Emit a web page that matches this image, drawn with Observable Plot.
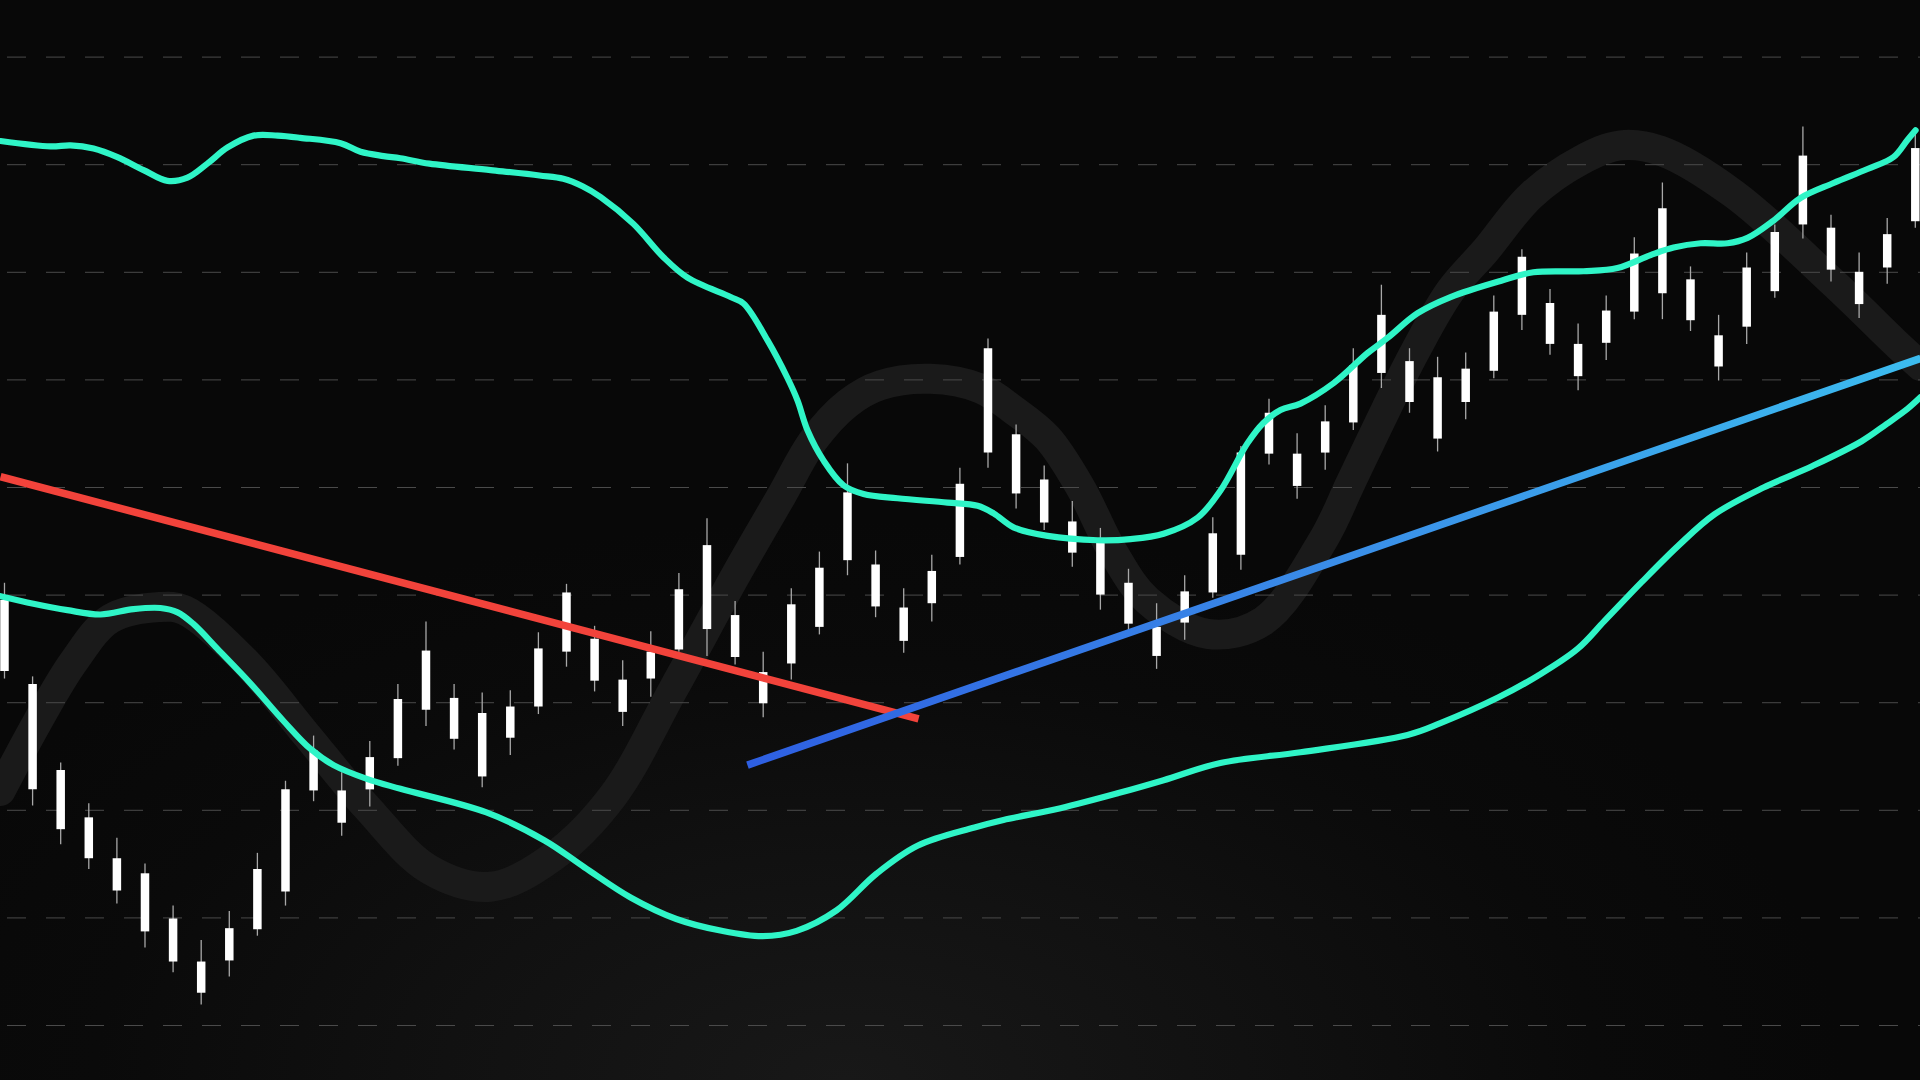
<!DOCTYPE html>
<html>
<head>
<meta charset="utf-8">
<script src="https://cdn.jsdelivr.net/npm/d3@7"></script>
<script src="https://cdn.jsdelivr.net/npm/@observablehq/plot@0.6"></script>
<style>
  html, body { margin: 0; padding: 0; width: 1920px; height: 1080px; overflow: hidden; }
  body {
    background: radial-gradient(ellipse 1000px 560px at 44% 100%, #181818 0%, #111111 40%, #0a0a0a 75%, #080808 100%);
    background-color: #080808;
  }
  #chart { position: absolute; left: 0; top: 0; }
</style>
</head>
<body>
<div id="chart"></div>
<script>
// ---- Candles (bar index 0..68), price units ----
const high  = [141.1,132.4,124.4,120.6,117.4,115.0,111.1,107.9,110.6,116.0,122.7,126.9,123.5,126.4,131.7,137.5,131.7,130.9,131.1,136.5,141.0,137.1,133.9,136.6,142.0,147.1,139.4,134.7,140.6,144.0,152.2,144.1,140.6,143.7,151.8,163.8,155.8,152.0,148.7,146.2,142.4,139.2,141.8,147.2,153.8,158.2,155.0,157.6,162.9,168.8,162.9,162.1,162.5,167.8,172.1,168.4,165.2,167.8,173.2,178.3,170.5,166.0,171.8,174.4,183.5,175.3,171.8,175.0,182.9];
const close = [139.5,131.7,123.7,119.3,115.5,114.1,109.9,105.9,109.0,114.5,121.9,125.5,121.8,124.9,130.3,134.8,130.4,129.0,129.6,135.0,140.2,135.9,132.1,134.7,140.5,144.6,138.1,132.8,139.1,142.5,149.5,142.8,138.8,142.2,150.3,162.9,154.9,150.7,146.8,144.8,141.1,137.0,140.3,145.7,153.2,156.9,153.1,156.1,161.3,166.0,161.7,160.2,161.0,166.3,171.4,167.1,163.3,166.4,171.7,175.9,169.3,164.1,170.4,173.7,180.8,174.1,170.0,173.5,181.5];
const open  = [132.9,121.9,118.2,115.5,112.5,108.7,105.9,103.0,106.0,108.9,112.4,121.8,118.8,121.9,124.8,129.3,126.6,123.1,126.7,129.6,134.7,132.0,129.1,132.2,134.9,136.8,134.2,129.9,133.6,137.0,143.2,138.9,135.7,139.2,143.5,153.2,149.4,146.7,143.9,140.0,137.3,134.3,137.4,140.2,143.7,153.1,150.1,153.2,156.0,160.6,157.9,154.5,157.9,160.8,166.0,163.3,160.3,163.4,166.3,168.0,165.5,161.2,164.9,168.2,174.4,170.2,167.0,170.4,174.7];
const low   = [132.2,120.4,116.8,114.5,111.3,107.2,104.9,101.9,104.5,108.3,111.1,120.8,117.6,120.3,124.1,127.8,125.6,122.1,125.1,128.9,133.3,131.0,127.8,130.5,134.7,134.3,133.5,128.6,132.1,136.3,141.8,137.9,134.6,137.5,142.8,151.8,148.0,146.0,142.6,138.6,136.7,133.1,135.8,139.7,142.3,152.1,148.9,151.6,155.3,159.2,156.9,153.3,156.3,160.1,164.6,162.3,159.0,161.8,165.6,165.6,164.5,159.9,163.3,167.6,173.1,169.1,165.7,168.9,174.1];

// ---- Upper band ----
const upperT = [-0.14,1.64,2.35,3.17,4.02,4.95,5.80,6.51,7.22,7.94,8.86,9.72,10.53,11.96,12.67,13.49,14.09,15.12,17.30,19.04,19.89,20.57,21.21,22.38,23.45,24.31,25.84,26.30,27.15,27.86,28.22,28.58,29.15,29.86,30.57,31.78,33.56,34.63,35.20,35.91,37.12,38.90,40.07,41.25,42.46,43.27,44.23,44.80,45.41,46.12,47.30,48.51,49.22,50.29,51.46,53.24,54.41,56.19,57.40,58.58,59.40,60.36,61.32,62.03,62.95,63.91,65.09,66.30,67.22,67.72,68.01];
const upperV = [182.2,181.7,181.8,181.5,180.7,179.5,178.5,178.8,180.1,181.6,182.7,182.7,182.5,182.0,181.2,180.8,180.6,180.1,179.5,179.0,178.7,178.0,177.0,174.5,171.4,169.5,167.7,167.1,163.7,160.2,158.1,155.3,152.5,150.2,149.4,149.0,148.6,148.3,147.6,146.3,145.5,145.1,145.2,145.7,147.2,149.7,154.1,156.0,157.2,157.8,159.7,162.5,163.9,166.2,167.7,169.2,170.0,170.1,170.4,171.6,172.3,172.7,172.7,173.2,174.8,176.9,178.3,179.6,180.7,182.3,183.2];

// ---- Lower band ----
const lowerT = [-0.14,1.03,2.24,3.42,4.59,5.55,6.16,6.73,7.58,8.75,9.93,10.89,11.71,12.92,14.09,17.15,19.22,20.64,22.28,23.91,25.52,26.98,28.19,29.61,31.03,32.49,34.52,35.55,37.58,39.64,41.25,43.27,46.12,49.93,51.10,53.17,54.56,55.98,56.94,58.26,59.57,60.85,62.60,64.34,66.09,66.98,67.72,68.19];
const lowerV = [139.9,139.2,138.6,138.2,138.7,138.8,138.4,137.3,135.0,131.8,128.3,125.7,124.2,122.9,122.0,119.8,117.2,114.7,111.9,109.9,108.8,108.3,108.8,110.7,114.1,116.7,118.4,119.1,120.2,121.6,122.8,124.4,125.4,127.0,128.1,130.5,132.5,135.0,137.6,141.2,144.6,147.5,150.0,152.0,154.3,155.9,157.3,158.4];

// ---- Faint wave ----
const waveT = [-0.14,1.17,2.46,3.77,5.52,6.41,8.58,10.75,12.92,15.12,17.30,19.47,21.64,23.81,26.01,27.62,28.79,30.00,31.17,32.95,34.73,35.91,37.12,38.29,39.47,40.68,42.81,44.80,46.94,47.90,49.15,50.21,51.46,52.70,54.31,56.09,57.51,58.93,61.53,65.09,67.47,68.19];
const waveV = [121.8,128.2,133.8,137.8,138.9,138.6,133.8,127.0,120.2,114.5,112.9,115.6,121.3,131.3,141.8,149.1,154.4,157.8,159.5,160.1,159.2,157.2,154.6,150.0,143.9,139.5,136.4,137.6,145.2,150.4,157.2,162.7,168.3,172.0,177.1,180.4,181.8,181.3,177.3,169.0,163.0,161.3];

// ---- Trend lines ----
const redT = [-0.14, 32.53];
const redV = [151.0, 128.5];
const blueT = [26.44, 68.19];
const blueV = [124.2, 162.0];

// ---- Grid levels ----
const gridLevels = [100,110,120,130,140,150,160,170,180,190];

const candles = high.map((h, i) => ({i, h, c: close[i], o: open[i], l: low[i]}));
const zip = (T, V) => T.map((t, k) => ({t, v: V[k]}));

const defs = () => {
  const d = d3.create("svg:defs");
  const g = d.append("linearGradient").attr("id", "blueGrad")
    .attr("x1", "0").attr("x2", "1").attr("y1", "0").attr("y2", "0");
  g.append("stop").attr("offset", "0%").attr("stop-color", "#2e5fe2");
  g.append("stop").attr("offset", "50%").attr("stop-color", "#3a8de8");
  g.append("stop").attr("offset", "100%").attr("stop-color", "#3cbcef");
  return d.node();
};

const chart = Plot.plot({
  width: 1920,
  height: 1080,
  margin: 0,
  x: {domain: [-0.142, 68.185], axis: null},
  y: {domain: [94.89, 195.26], axis: null},
  style: {background: "transparent", overflow: "visible"},
  marks: [
    defs,
    Plot.line(zip(waveT, waveV), {x: "t", y: "v", curve: "catmull-rom", stroke: "#1a1a1a", strokeWidth: 30}),
    Plot.ruleY(gridLevels, {stroke: "#4a4a4a", strokeWidth: 1, strokeDasharray: "19,20", strokeDashoffset: -7}),
    Plot.ruleX(candles, {x: "i", y1: "l", y2: "h", stroke: "#a8a8a8", strokeWidth: 1.3}),
    Plot.ruleX(candles, {x: "i", y1: "o", y2: "c", stroke: "#ffffff", strokeWidth: 8.5, strokeLinecap: "butt"}),
    Plot.line(zip(upperT, upperV), {x: "t", y: "v", curve: "catmull-rom", stroke: "#2ff5c7", strokeWidth: 6.2, strokeLinecap: "round"}),
    Plot.line(zip(lowerT, lowerV), {x: "t", y: "v", curve: "catmull-rom", stroke: "#2ff5c7", strokeWidth: 6.2, strokeLinecap: "round"}),
    Plot.line(zip(redT, redV), {x: "t", y: "v", stroke: "#f2433b", strokeWidth: 7.5, strokeLinecap: "butt"}),
    Plot.line(zip(blueT, blueV), {x: "t", y: "v", stroke: "url(#blueGrad)", strokeWidth: 7.5, strokeLinecap: "butt"})
  ]
});
document.getElementById("chart").appendChild(chart);
</script>
</body>
</html>
